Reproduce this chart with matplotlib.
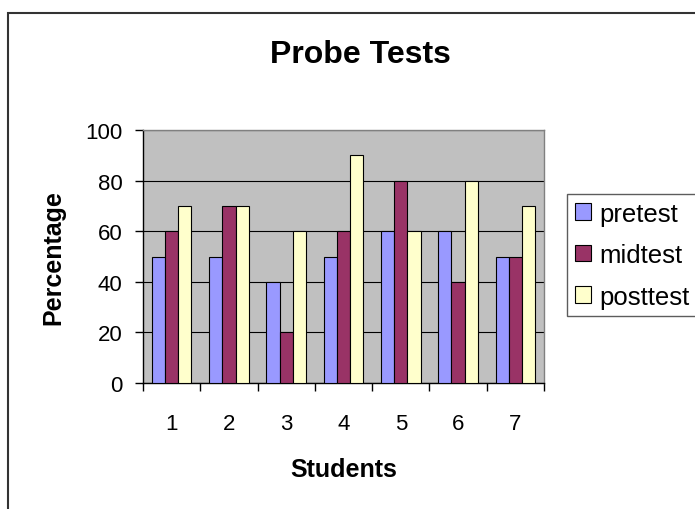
import numpy as np
import matplotlib
matplotlib.use("Agg")
import matplotlib.pyplot as plt
from matplotlib.patches import Rectangle
from matplotlib import rcParams

rcParams['font.family'] = ['Liberation Sans', 'DejaVu Sans']

students = ["1", "2", "3", "4", "5", "6", "7"]
pretest = [50, 50, 40, 50, 60, 60, 50]
midtest = [60, 70, 20, 60, 80, 40, 50]
posttest = [70, 70, 60, 90, 60, 80, 70]
yticks = [0, 20, 40, 60, 80, 100]

series = [("pretest", pretest, "#9999FF"),
          ("midtest", midtest, "#993366"),
          ("posttest", posttest, "#FFFFCC")]

W, H = 695, 510
fig = plt.figure(figsize=(W / 100., H / 100.), dpi=100)
fig.patch.set_facecolor("white")

# chart frame, runs off the right and bottom edges
fig.patches.append(Rectangle((8. / W, -0.05), 1.2, 1 - 13.5 / H + 0.05,
                             transform=fig.transFigure, fill=False,
                             edgecolor="#333333", linewidth=1.5))

ax = fig.add_axes([143. / W, 1 - 384. / H, 401. / W, 253. / H])
ax.set_facecolor("#C0C0C0")

x = np.arange(len(students))
bw = 0.23
for i, (name, vals, col) in enumerate(series):
    ax.bar(x + (i - 1) * bw, vals, bw, color=col, edgecolor="black",
           linewidth=0.8, label=name, zorder=3)

ax.set_xlim(-0.5, len(students) - 0.5)
ax.set_ylim(0, 100)
ax.set_yticks(yticks)
ax.yaxis.grid(True, color="black", linewidth=0.8, zorder=1)
ax.set_axisbelow(True)

# category boundaries get the tick marks, labels sit in the middle
ax.set_xticks(np.arange(-0.5, len(students), 1.0))
ax.set_xticklabels([])
ax.set_xticks(x, minor=True)
ax.set_xticklabels(students, minor=True)
ax.tick_params(axis="x", which="major", length=5.8, width=1, color="black", direction="out")
ax.tick_params(axis="x", which="minor", length=0, pad=21.5, labelsize=16)
ax.tick_params(axis="y", length=5.8, width=1, color="black", direction="out", pad=9, labelsize=16)

for side in ["top", "right"]:
    ax.spines[side].set_color("#808080")
    ax.spines[side].set_linewidth(1)
for side in ["left", "bottom"]:
    ax.spines[side].set_color("black")
    ax.spines[side].set_linewidth(1)

ax.set_xlabel("Students", fontsize=18, fontweight="bold", labelpad=17)
ax.set_ylabel("Percentage", fontsize=18, fontweight="bold", labelpad=14)
fig.text(360. / W, 1 - 55. / H, "Probe Tests", fontsize=23, fontweight="bold",
         ha="center", va="center")

leg = fig.legend(loc="upper left", bbox_to_anchor=(567. / W, 1 - 322. / H, 140. / W, 127. / H),
                 mode="expand", fontsize=18.5, frameon=True, fancybox=False,
                 edgecolor="#333333", handlelength=0.62, handleheight=0.62,
                 handletextpad=0.35, labelspacing=0.68, borderaxespad=0.,
                 borderpad=0.3)
leg.get_frame().set_linewidth(1)

fig.savefig("out.png", dpi=100)
